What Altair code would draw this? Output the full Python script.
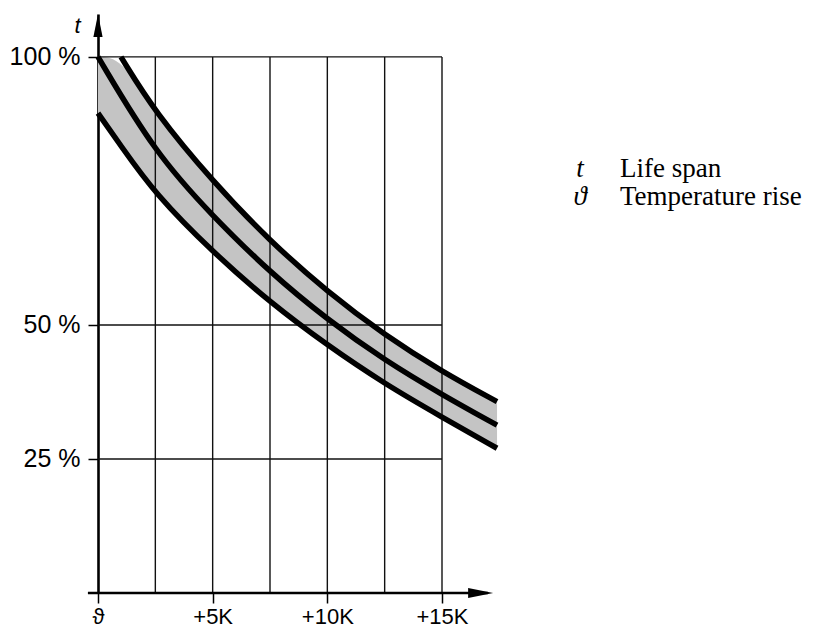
import altair as alt
import pandas as pd

# ---- data ----
temp_rise_ticks = [0, 5, 10, 15]          # K
life_ticks = [25, 50, 100]                 # %
grid_x = [2.5, 5, 7.5, 10, 12.5, 15]
grid_y = [25, 50, 100]

upper_x = [1.0, 2.5, 5, 7.5, 10, 12.5, 15, 17.4]
upper_y = [100, 89.6, 76.8, 65.6, 56.2, 48.1, 41.3, 35.7]
middle_x = [0, 2.5, 5, 7.5, 10, 12.5, 15, 17.4]
middle_y = [100, 82.0, 70.3, 59.8, 51.0, 43.4, 37.0, 31.3]
lower_x = [0, 1.0, 2.5, 5, 7.5, 10, 12.5, 15, 17.4]
lower_y = [89.5, 83.4, 74.4, 63.6, 54.2, 46.2, 39.0, 32.8, 27.0]
band_top = [100] + upper_y

legend_symbols = ["t", "ϑ"]
legend_labels = ["Life span", "Temperature rise"]

# ---- tables ----
curves = pd.concat([
    pd.DataFrame({"curve": "upper", "k": upper_x, "p": upper_y}),
    pd.DataFrame({"curve": "middle", "k": middle_x, "p": middle_y}),
    pd.DataFrame({"curve": "lower", "k": lower_x, "p": lower_y}),
])
band = pd.DataFrame({"k": lower_x, "p": lower_y, "p2": band_top})
vgrid = pd.DataFrame({"k": grid_x, "p": [0] * len(grid_x), "p2": [100] * len(grid_x)})
hgrid = pd.DataFrame({"k": [0] * len(grid_y), "k2": [15] * len(grid_y), "p": grid_y})
xaxis_line = pd.DataFrame({"k": [-0.44], "k2": [17.0], "p": [0]})
x_arrow = pd.DataFrame({"k": [17.23], "p": [0]})
y_arrow = pd.DataFrame({"k": [0], "p": [108]})

W, H = 688, 579
xs = alt.Scale(domain=[0, 30], nice=False, zero=False)
ys = alt.Scale(domain=[0, 108], nice=False, zero=False)

x_axis = alt.Axis(values=temp_rise_ticks,
                  labelExpr="datum.value == 0 ? 'ϑ' : '+' + datum.value + 'K'",
                  domain=False, tickSize=10, tickWidth=1.5, tickColor="black",
                  labelFont="Liberation Sans", labelFontSize=22, labelColor="black",
                  labelPadding=3, labelBaseline="top", labelFlush=False,
                  labelOverlap=False, grid=False, title=None)
y_axis = alt.Axis(values=life_ticks, labelExpr="datum.value + ' %'",
                  tickSize=10, tickWidth=1.5, tickColor="black",
                  domainColor="black", domainWidth=2.6,
                  labelFont="Liberation Sans", labelFontSize=25, labelColor="black",
                  labelPadding=8, grid=False,
                  title="t", titleAngle=0, titleX=-21, titleY=18,
                  titleAlign="center", titleBaseline="alphabetic",
                  titleFont="Liberation Sans", titleFontStyle="italic",
                  titleFontWeight="normal", titleFontSize=22, titleColor="black")


def X(f):
    return alt.X(f, type="quantitative", scale=xs, axis=x_axis)


def Y(f):
    return alt.Y(f, type="quantitative", scale=ys, axis=y_axis)


area = alt.Chart(band).mark_area(color="#c4c4c4", interpolate="basis", opacity=1).encode(
    x=X("k"), y=Y("p"), y2="p2")

vrules = alt.Chart(vgrid).mark_rule(color="#111", strokeWidth=1.4).encode(
    x=X("k"), y=Y("p"), y2="p2")
hrules = alt.Chart(hgrid).mark_rule(color="#111", strokeWidth=1.4).encode(
    x=X("k"), x2="k2", y=Y("p"))

lines = alt.Chart(curves).mark_line(color="black", strokeWidth=5.5, interpolate="basis",
                                    strokeCap="butt").encode(
    x=X("k"), y=Y("p"), detail="curve:N")

xline = alt.Chart(xaxis_line).mark_rule(color="black", strokeWidth=2.4).encode(
    x=X("k"), x2="k2", y=Y("p"))

xarr = alt.Chart(x_arrow).mark_point(shape="M 0 0 L -1 -0.2 L -1 0.2 Z", size=2500,
                                     filled=True, color="black", opacity=1,
                                     strokeWidth=0).encode(x=X("k"), y=Y("p"))
yarr = alt.Chart(y_arrow).mark_point(shape="M 0 0 L -0.2 1 L 0.2 1 Z", size=2116,
                                     filled=True, color="black", opacity=1,
                                     strokeWidth=0).encode(x=X("k"), y=Y("p"))

leg1 = pd.DataFrame({"s": [legend_symbols[0]], "l": [legend_labels[0]]})
leg2 = pd.DataFrame({"s": [legend_symbols[1]], "l": [legend_labels[1]]})
legend_layers = []
for df, yy in [(leg1, 163), (leg2, 191)]:
    legend_layers.append(alt.Chart(df).mark_text(
        x=482, y=yy, align="center", baseline="alphabetic", font="Liberation Serif",
        fontStyle="italic", fontSize=27, color="black").encode(text="s:N"))
    legend_layers.append(alt.Chart(df).mark_text(
        x=522, y=yy, align="left", baseline="alphabetic", font="Liberation Serif",
        fontSize=27, color="black").encode(text="l:N"))

chart = alt.layer(area, vrules, hrules, lines, xline, xarr, yarr, *legend_layers).properties(
    width=W, height=H,
    autosize=alt.AutoSizeParams(type="none"),
    padding={"left": 90, "top": 6, "right": 20, "bottom": 38},
).configure_view(stroke=None)

chart.save("out.html", embed_options={"renderer": "svg", "actions": False})
